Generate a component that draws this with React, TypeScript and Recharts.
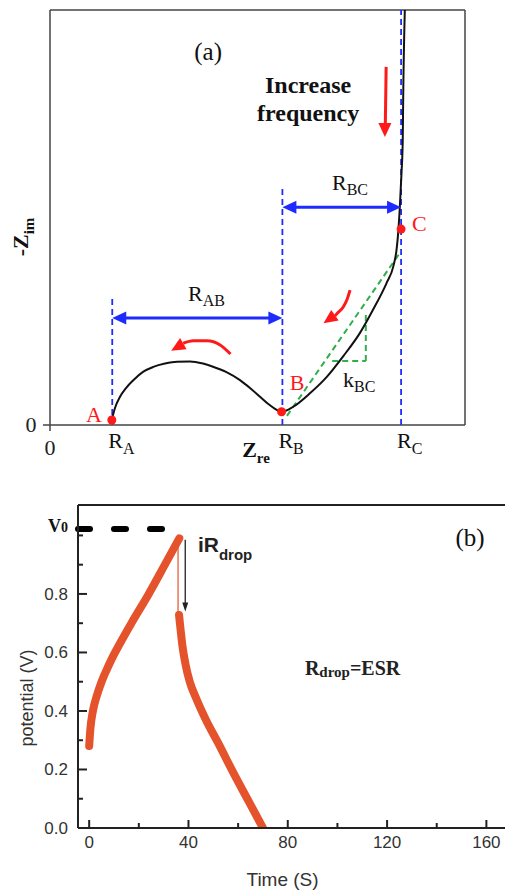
import React from 'react';
import { ComposedChart, Line, Scatter, XAxis, YAxis, ReferenceLine, ReferenceDot } from 'recharts';

const SERIF = '"Liberation Serif", "Times New Roman", serif';
const SANS = '"Liberation Sans", Arial, sans-serif';

// ---------- Panel (a) data ----------
const RA = 15;
const RB = 56;
const RC = 84.6;
const NYQ_X = [14.87, 15.66, 16.87, 18.31, 20.07, 22.41, 24.89, 27.71, 30.6, 33.73, 36.87, 39.28, 42.41, 45.78, 48.19, 50.6, 52.53, 54.22, 55.83, 58.6, 62.7, 66.7, 70.6, 74.7, 77.8, 81.1, 82.7, 83.5, 83.9, 84.3, 84.7, 85.0, 85.1, 85.5];
const NYQ_Y = [1.2, 4.1, 6.8, 8.9, 10.8, 12.8, 14.0, 14.8, 15.25, 15.3, 14.8, 14.05, 12.8, 10.8, 8.9, 6.8, 5.1, 3.9, 3.2, 4.4, 7.7, 11.6, 16.5, 22.2, 27.7, 34.2, 38.1, 42.2, 46.3, 52.6, 60.7, 68.7, 78.3, 100];
const POINT_X = [14.9, 55.8, 84.6];
const POINT_Y = [1.2, 3.2, 47.2];
const POINT_NAMES = ['A', 'B', 'C'];
const A_TICKS = [0, RA, RB, RC];
const A_TICK_LABELS = [['0', ''], ['R', 'A'], ['R', 'B'], ['R', 'C']];
const ARROW1_X = [32.1, 34.5, 37.8, 41.0, 43.5];
const ARROW1_Y = [19.7, 20.3, 20.3, 19.3, 17.1];
const ARROW2_X = [68.7, 69.2, 70.7, 71.6, 72.3];
const ARROW2_Y = [26.3, 26.9, 28.5, 30.3, 32.5];
const RAB_LEVEL = 25.8;
const RBC_LEVEL = 52.5;

const nyquist = NYQ_X.map((x, i) => ({ x, y: NYQ_Y[i] }));
const points = POINT_X.map((x, i) => ({ x, y: POINT_Y[i], name: POINT_NAMES[i] }));
const arrow1 = ARROW1_X.map((x, i) => ({ x, y: ARROW1_Y[i] }));
const arrow2 = ARROW2_X.map((x, i) => ({ x, y: ARROW2_Y[i] }));

// ---------- Panel (b) data ----------
const CHARGE_T = [0, 0.5, 1.5, 3, 5, 7, 9.5, 13, 17, 24, 30.5, 36.3];
const CHARGE_V = [0.28, 0.34, 0.4, 0.45, 0.5, 0.54, 0.585, 0.64, 0.7, 0.8, 0.9, 0.99];
const DISCH_T = [36.2, 36.8, 37.6, 38.8, 40.5, 43, 47, 52, 58, 64, 70];
const DISCH_V = [0.728, 0.68, 0.62, 0.56, 0.5, 0.445, 0.37, 0.29, 0.19, 0.095, 0.0];
const V0 = 1.022;
const DROP_T = 35.8;
const DROP_TOP = 0.99;
const DROP_BOTTOM = 0.73;
const B_XTICKS = [0, 20, 40, 60, 80, 100, 120, 140, 160];
const B_YTICKS = [0, 0.1, 0.2, 0.3, 0.4, 0.5, 0.6, 0.7, 0.8, 0.9, 1.0];
const B_YLABELED = [0, 0.2, 0.4, 0.6, 0.8];
const Y_TOP = 1.104;

const charge = CHARGE_T.map((t, i) => ({ t, v: CHARGE_V[i] }));
const discharge = DISCH_T.map((t, i) => ({ t, v: DISCH_V[i] }));

// ---------- helpers ----------
function note(key: string, x: number, y: number, content: (cx: number, cy: number) => any) {
  return (
    <ReferenceDot
      key={key}
      x={x}
      y={y}
      r={1}
      ifOverflow="visible"
      shape={(p: any) => content(p.cx, p.cy)}
    />
  );
}

function head(key: string, x: number, y: number, angle: number, len: number, w: number, fill: string) {
  return note(key, x, y, (cx, cy) => (
    <polygon
      transform={`translate(${cx},${cy}) rotate(${angle})`}
      points={`0,0 ${-len},${-w / 2} ${-len},${w / 2}`}
      fill={fill}
    />
  ));
}

function seg(key: string, x1: number, y1: number, x2: number, y2: number, stroke: string, width: number, dash?: string, cap?: string) {
  return (
    <ReferenceLine
      key={key}
      segment={[{ x: x1, y: y1 }, { x: x2, y: y2 }]}
      stroke={stroke}
      strokeWidth={width}
      strokeDasharray={dash}
      strokeLinecap={cap as any}
      ifOverflow="visible"
    />
  );
}

function subText(
  cx: number, cy: number, main: string, sub: string,
  opts: { size: number; subSize: number; dy: number; fill?: string; weight?: string; family?: string; anchor?: string; rotate?: boolean }
) {
  const { size, subSize, dy, fill = '#000', weight = 'normal', family = SERIF, anchor = 'start', rotate } = opts;
  return (
    <text
      x={cx}
      y={cy}
      fill={fill}
      fontFamily={family}
      fontWeight={weight}
      fontSize={size}
      textAnchor={anchor}
      transform={rotate ? `rotate(-90, ${cx}, ${cy})` : undefined}
    >
      <tspan>{main}</tspan>
      {sub ? <tspan dy={dy} fontSize={subSize}>{sub}</tspan> : null}
    </text>
  );
}

const ATick = (props: any) => {
  const { x, y, payload } = props;
  const idx = A_TICKS.indexOf(payload.value);
  const lab = A_TICK_LABELS[idx] || ['', ''];
  if (payload.value === 0) {
    return (
      <g>
        <line x1={x} y1={y} x2={x} y2={y + 6} stroke="#444" strokeWidth={1.5} />
        <text x={x} y={y + 30} textAnchor="middle" fontFamily={SERIF} fontSize={22} fill="#222">0</text>
      </g>
    );
  }
  return (
    <text x={x - 4} y={y + 23} textAnchor="start" fontFamily={SERIF} fontSize={22} fill="#111">
      <tspan>{lab[0]}</tspan>
      <tspan dy={6} fontSize={16}>{lab[1]}</tspan>
    </text>
  );
};

const AYTick = (props: any) => {
  const { x, y } = props;
  return (
    <g>
      <line x1={x - 7} y1={y} x2={x} y2={y} stroke="#444" strokeWidth={1.5} />
      <text x={x - 19} y={y + 7} textAnchor="middle" fontFamily={SERIF} fontSize={22} fill="#222">0</text>
    </g>
  );
};

const BXTick = (props: any) => {
  const { x, y, payload } = props;
  const v = payload.value;
  const major = v % 40 === 0;
  return (
    <g>
      <line x1={x} y1={y} x2={x} y2={y - (major ? 8 : 5)} stroke="#222" strokeWidth={2} />
      {major ? (
        <text x={x} y={y + 20} textAnchor="middle" fontFamily={SANS} fontSize={17} fill="#333">{String(v)}</text>
      ) : null}
    </g>
  );
};

const BYTick = (props: any) => {
  const { x, y, payload } = props;
  const v = payload.value;
  const labeled = B_YLABELED.some((l) => Math.abs(l - v) < 1e-6);
  return (
    <g>
      <line x1={x} y1={y} x2={x + (labeled ? 9 : 5)} y2={y} stroke="#222" strokeWidth={2} />
      {labeled ? (
        <text x={x - 10} y={y + 6} textAnchor="end" fontFamily={SANS} fontSize={17} fill="#333">{v.toFixed(1)}</text>
      ) : null}
    </g>
  );
};

const RED = '#ff1a1a';
const BLUE = '#1e2bff';
const GREEN = '#2fae4a';
const ORANGE = '#e4532b';

export default function App() {
  return (
    <div style={{ position: 'absolute', left: 0, top: 0, width: 505, height: 893, background: '#fff', overflow: 'hidden' }}>
      <div style={{ position: 'absolute', left: 0, top: 0 }}>
        <ComposedChart width={505} height={470} margin={{ top: 10, right: 40, bottom: 0, left: 0 }}>
          <XAxis
            type="number"
            dataKey="x"
            domain={[0, 100]}
            ticks={A_TICKS}
            interval={0}
            tick={<ATick />}
            tickLine={false}
            tickSize={0}
            tickMargin={0}
            height={45}
            axisLine={{ stroke: '#444', strokeWidth: 1.5 }}
            allowDataOverflow
          />
          <YAxis
            type="number"
            dataKey="y"
            domain={[0, 100]}
            ticks={[0]}
            tick={<AYTick />}
            tickLine={false}
            tickSize={0}
            tickMargin={0}
            width={50}
            axisLine={{ stroke: '#444', strokeWidth: 1.5 }}
            allowDataOverflow
          />
          <ReferenceLine y={100} stroke="#444" strokeWidth={1.5} />
          <ReferenceLine x={100} stroke="#444" strokeWidth={1.5} />

          {seg('vA', RA, 0, RA, 31.1, BLUE, 1.8, '6 4')}
          {seg('vB', RB, 0, RB, 57.6, BLUE, 1.8, '6 4')}
          {seg('vC', RC, 0, RC, 100, BLUE, 1.8, '6 4')}

          {seg('rab', RA + 3, RAB_LEVEL, RB - 3, RAB_LEVEL, BLUE, 3)}
          {head('rabL', RA, RAB_LEVEL, 180, 14, 13, BLUE)}
          {head('rabR', RB, RAB_LEVEL, 0, 14, 13, BLUE)}
          {seg('rbc', RB + 3, RBC_LEVEL, RC - 3, RBC_LEVEL, BLUE, 3)}
          {head('rbcL', RB, RBC_LEVEL, 180, 14, 13, BLUE)}
          {head('rbcR', RC, RBC_LEVEL, 0, 14, 13, BLUE)}

          {seg('gdiag', 57.1, 2.2, 84.6, 41.9, GREEN, 2, '6 4')}
          {seg('ghor', 68.0, 15.4, 76.1, 15.4, GREEN, 2, '6 4')}
          {seg('gver', 76.1, 15.4, 76.1, 27.0, GREEN, 2, '6 4')}

          <Line data={nyquist} dataKey="y" type="monotone" stroke="#111" strokeWidth={2} dot={false} isAnimationActive={false} />
          <Scatter data={points} dataKey="y" fill={RED} isAnimationActive={false}
            shape={(p: any) => <circle cx={p.cx} cy={p.cy} r={4.5} fill={RED} />} />

          <Line data={arrow1} dataKey="y" type="monotone" stroke={RED} strokeWidth={3} dot={false} isAnimationActive={false} />
          {head('a1h', 29.2, 17.9, 150, 14, 13, RED)}
          <Line data={arrow2} dataKey="y" type="monotone" stroke={RED} strokeWidth={3} dot={false} isAnimationActive={false} />
          {head('a2h', 65.9, 24.5, 145, 14, 13, RED)}
          {seg('a3', 81.0, 86.3, 80.8, 72.3, RED, 3)}
          {head('a3h', 80.7, 69.4, 90, 14, 13, RED)}

          {note('ta', 38.1, 88.0, (cx, cy) => (
            <text x={cx} y={cy} textAnchor="middle" fontFamily={SERIF} fontSize={25} fill="#111">(a)</text>
          ))}
          {note('inc', 62.2, 80.0, (cx, cy) => (
            <text x={cx} y={cy} textAnchor="middle" fontFamily={SERIF} fontWeight="bold" fontSize={24} fill="#111">Increase</text>
          ))}
          {note('freq', 62.2, 73.3, (cx, cy) => (
            <text x={cx} y={cy} textAnchor="middle" fontFamily={SERIF} fontWeight="bold" fontSize={24} fill="#111">frequency</text>
          ))}
          {note('rbcT', 67.95, 56.6, (cx, cy) => subText(cx, cy, 'R', 'BC', { size: 22, subSize: 16, dy: 5, fill: '#111' }))}
          {note('rabT', 33.25, 29.9, (cx, cy) => subText(cx, cy, 'R', 'AB', { size: 22, subSize: 16, dy: 5, fill: '#111' }))}
          {note('kbc', 70.6, 9.2, (cx, cy) => subText(cx, cy, 'k', 'BC', { size: 22, subSize: 16, dy: 5, fill: '#111' }))}
          {note('lA', 8.7, 0.7, (cx, cy) => (
            <text x={cx} y={cy} fontFamily={SERIF} fontSize={22} fill={RED}>A</text>
          ))}
          {note('lB', 57.8, 8.4, (cx, cy) => (
            <text x={cx} y={cy} fontFamily={SERIF} fontSize={22} fill={RED}>B</text>
          ))}
          {note('lC', 87.2, 46.7, (cx, cy) => (
            <text x={cx} y={cy} fontFamily={SERIF} fontSize={22} fill={RED}>C</text>
          ))}
          {note('zre', 46.3, -7.7, (cx, cy) => subText(cx, cy, 'Z', 're', { size: 22, subSize: 15, dy: 6, weight: 'bold', fill: '#111' }))}
          {note('zim', -5.3, 45.3, (cx, cy) => subText(cx, cy, '-Z', 'im', { size: 22, subSize: 15, dy: 6, weight: 'bold', fill: '#111', anchor: 'middle', rotate: true }))}
        </ComposedChart>
      </div>

      <div style={{ position: 'absolute', left: 0, top: 460 }}>
        <ComposedChart width={505} height={433} margin={{ top: 45, right: 0, bottom: 0, left: 0 }}>
          <XAxis
            type="number"
            dataKey="t"
            domain={[-4.5, 167.5]}
            ticks={B_XTICKS}
            interval={0}
            tick={<BXTick />}
            tickLine={false}
            tickSize={0}
            tickMargin={0}
            height={65}
            axisLine={{ stroke: '#222', strokeWidth: 2 }}
            allowDataOverflow
          />
          <YAxis
            type="number"
            dataKey="v"
            domain={[0, Y_TOP]}
            ticks={B_YTICKS}
            interval={0}
            tick={<BYTick />}
            tickLine={false}
            tickSize={0}
            tickMargin={0}
            width={78}
            axisLine={{ stroke: '#222', strokeWidth: 2 }}
            allowDataOverflow
          />
          <ReferenceLine y={Y_TOP} stroke="#222" strokeWidth={2} />

          {seg('v0', -4.5, V0, 34.4, V0, '#000', 6, '12 24', 'round')}
          {seg('drop', DROP_T, DROP_TOP, DROP_T, DROP_BOTTOM, '#e8744f', 1.5)}
          <Line data={charge} dataKey="v" type="monotone" stroke={ORANGE} strokeWidth={8} strokeLinecap="round" dot={false} isAnimationActive={false} />
          <Line data={discharge} dataKey="v" type="monotone" stroke={ORANGE} strokeWidth={8} strokeLinecap="round" dot={false} isAnimationActive={false} />
          {seg('blk', 38.7, 0.985, 38.7, 0.765, '#222', 1.3)}
          {head('blkh', 38.7, 0.74, 90, 9, 6, '#222')}

          {note('v0t', -16.6, 1.0116, (cx, cy) => (
            <text x={cx} y={cy} fontFamily={SERIF} fontWeight="bold" fontSize={18} fill="#111">
              <tspan>V</tspan><tspan fontSize={14}>0</tspan>
            </text>
          ))}
          {note('ird', 43.8, 0.943, (cx, cy) => subText(cx, cy, 'iR', 'drop', { size: 21, subSize: 15, dy: 8, weight: 'bold', family: SANS, fill: '#222' }))}
          {note('tb', 153.4, 0.964, (cx, cy) => (
            <text x={cx} y={cy} textAnchor="middle" fontFamily={SERIF} fontSize={25} fill="#111">(b)</text>
          ))}
          {note('esr', 86.9, 0.523, (cx, cy) => (
            <text x={cx} y={cy} fontFamily={SERIF} fontWeight="bold" fontSize={20} fill="#222">
              <tspan>R</tspan><tspan fontSize={15} dy={2}>drop</tspan><tspan dy={-2}>=ESR</tspan>
            </text>
          ))}
          {note('ylab', -22.6, 0.444, (cx, cy) => (
            <text x={cx} y={cy} textAnchor="middle" fontFamily={SANS} fontSize={18} fill="#333" transform={`rotate(-90, ${cx}, ${cy})`}>potential (V)</text>
          ))}
          {note('xlab', 77.9, -0.198, (cx, cy) => (
            <text x={cx} y={cy} textAnchor="middle" fontFamily={SANS} fontSize={19} fill="#333">Time (S)</text>
          ))}
        </ComposedChart>
      </div>
    </div>
  );
}
